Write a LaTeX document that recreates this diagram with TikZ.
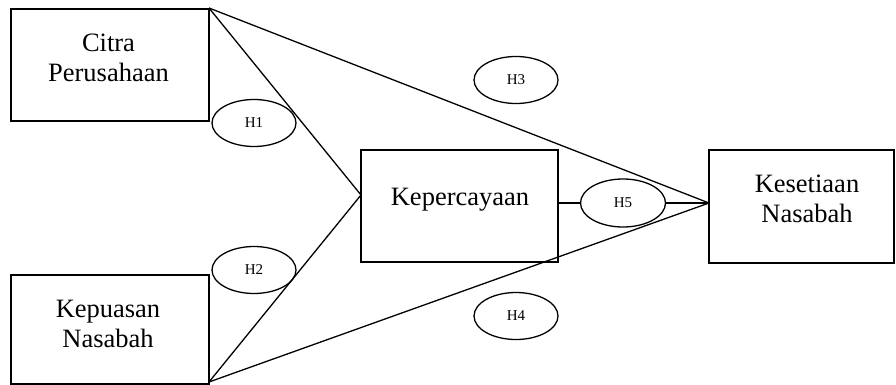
\documentclass[tikz,border=0pt]{standalone}
\usepackage{fontspec}
\setmainfont{Liberation Serif}
\usetikzlibrary{shapes.geometric}
\begin{document}
\begin{tikzpicture}[x=1pt,y=-1pt,line width=1.3pt,
  box/.style={draw,rectangle,inner sep=0pt},
  hyp/.style={draw,ellipse,minimum width=84pt,minimum height=47pt,inner sep=0pt,font=\fontsize{15}{17}\selectfont},
  lbl/.style={align=center,inner sep=0pt,font=\fontsize{26.5}{30.5}\selectfont}]
\useasboundingbox (0,0) rectangle (896,385);
% boxes
\node[box,minimum width=198pt,minimum height=112pt] (citra) at (110,65) {};
\node[box,minimum width=198pt,minimum height=109pt] (kepuasan) at (110,329.5) {};
\node[box,minimum width=197pt,minimum height=112pt] (kep) at (459.5,206) {};
\node[box,minimum width=185pt,minimum height=113pt] (kes) at (801.5,206.5) {};
% texts
\node[lbl] (citraT) at (108.5,58) {Citra\\Perusahaan};
\node[lbl] (kepuasanT) at (108,324) {Kepuasan\\Nasabah};
\node[lbl] (kepT) at (460,199.5) {Kepercayaan};
\node[lbl] (kesT) at (807,199) {Kesetiaan\\Nasabah};
% hypotheses
\node[hyp] (h1) at (254,123) {H1};
\node[hyp] (h2) at (254,270) {H2};
\node[hyp] (h3) at (516,80) {H3};
\node[hyp] (h4) at (516,316) {H4};
\node[hyp,minimum width=85pt,minimum height=48pt] (h5) at (623,203) {H5};
% junction points
\coordinate (cOut) at (209,8);
\coordinate (kpOut) at (209,382);
\coordinate (kepIn) at (361,195);
\coordinate (kepOut) at (558,203);
\coordinate (kesIn) at (709,203);
% connectors
\draw (cOut) -- (kepIn);
\draw (cOut) -- (kesIn);
\draw (kpOut) -- (kepIn);
\draw (kpOut) -- (kesIn);
\draw (kepOut) -- (h5.west);
\draw (h5.east) -- (kesIn);
\end{tikzpicture}
\end{document}
